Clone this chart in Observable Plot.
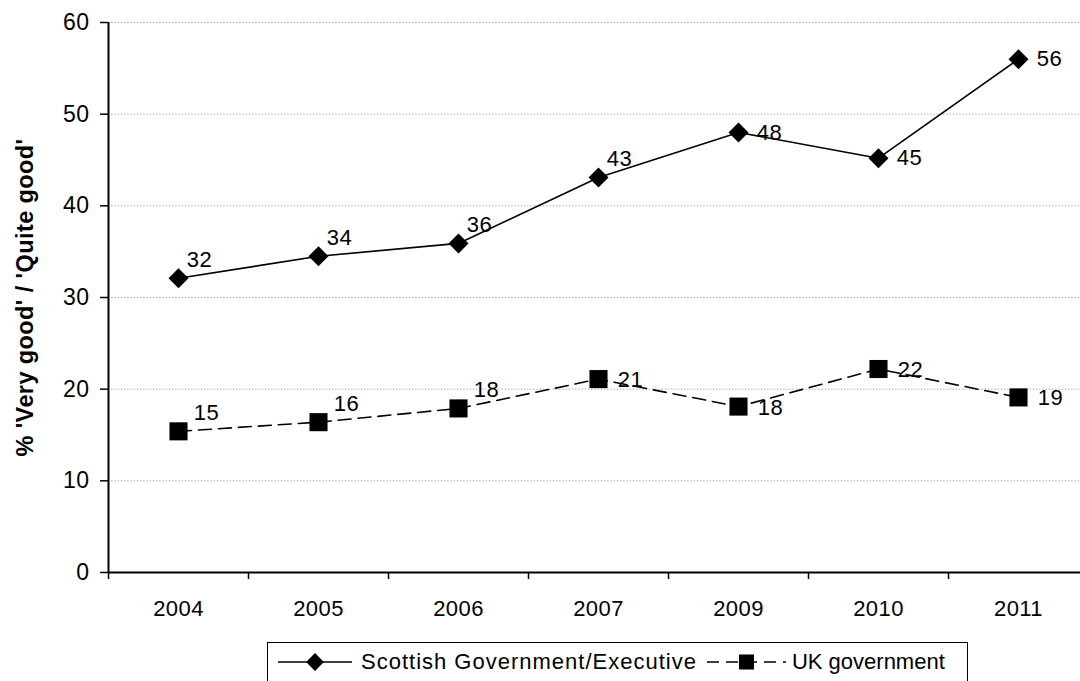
<!DOCTYPE html>
<html><head><meta charset="utf-8">
<script src="https://cdn.jsdelivr.net/npm/d3@7"></script>
<script src="https://cdn.jsdelivr.net/npm/@observablehq/plot@0.6"></script>
<style>
body{margin:0;background:#fff;font-family:"Liberation Sans",Arial,sans-serif;position:relative;width:1080px;height:681px;overflow:hidden;}
#legend{position:absolute;left:267px;top:642px;width:701px;height:44px;box-sizing:border-box;border:1px solid #000;display:flex;align-items:center;padding-left:10px;padding-bottom:4px;font-size:22px;white-space:nowrap;color:#000;}
#legend .item{display:flex;align-items:center;}
#legend .item0 span{letter-spacing:1px;}
#legend .item0{margin-right:10px;}
</style></head><body><div id="chart"></div><div id="legend"></div>
<script>
const years = ["2004","2005","2006","2007","2009","2010","2011"];
const scottish = [32.1, 34.5, 35.9, 43.1, 48.0, 45.2, 56.0];
const scottishLabels = [32, 34, 36, 43, 48, 45, 56];
const uk = [15.4, 16.4, 17.9, 21.1, 18.1, 22.2, 19.1];
const ukLabels = [15, 16, 18, 21, 18, 22, 19];
const yTicks = [0, 10, 20, 30, 40, 50, 60];
const seriesNames = ["Scottish Government/Executive", "UK government"];
const yTitle = "% 'Very good' / 'Quite good'";

const idx = years.map((_, i) => i);
const bounds = years.map((_, i) => i - 0.5).concat([years.length - 0.5]);
const sData = idx.map(i => ({i, value: scottish[i], label: scottishLabels[i]}));
const uData = idx.map(i => ({i, value: uk[i], label: ukLabels[i]}));

const font = "Liberation Sans, Arial, sans-serif";
const chart = Plot.plot({
  width: 1080,
  height: 636,
  marginTop: 22,
  marginBottom: 64,
  marginLeft: 108,
  marginRight: 0,
  style: {fontFamily: font, fontSize: "22px", color: "#000", background: "#fff", letterSpacing: "0.4px"},
  x: {type: "linear", domain: [-0.5, years.length - 0.5], range: [108, 1088]},
  y: {domain: [0, 60]},
  marks: [
    Plot.ruleY(yTicks.filter(d => d > 0), {stroke: "#999", strokeWidth: 1, strokeDasharray: "1.2,2"}),
    Plot.axisY({ticks: yTicks, tickSize: 8, tickPadding: 11, label: null, tickFormat: d => String(d), stroke: "#000", strokeWidth: 1.5, fontSize: 23}),
    Plot.axisX({ticks: bounds, tickSize: 7, tickFormat: () => "", label: null, stroke: "#000", strokeWidth: 1.5}),
    Plot.axisX({ticks: idx, tickSize: 0, tickPadding: 28, tickFormat: i => years[i], label: null, fontSize: 22}),
    Plot.ruleY([0], {stroke: "#000", strokeWidth: 2}),
    Plot.ruleX([-0.5], {stroke: "#000", strokeWidth: 2}),
    Plot.text([yTitle], {frameAnchor: "left", textAnchor: "middle", rotate: -90, dx: -83, fontWeight: "bold", fontSize: 23.5}),
    Plot.line(sData, {x: "i", y: "value", stroke: "#000", strokeWidth: 1.6}),
    Plot.line(uData, {x: "i", y: "value", stroke: "#000", strokeWidth: 1.6, strokeDasharray: "13,7"}),
    Plot.dot(sData, {x: "i", y: "value", symbol: "diamond2", r: 9, fill: "#000", stroke: "none"}),
    Plot.dot(uData, {x: "i", y: "value", symbol: "square", r: 10.2, fill: "#000", stroke: "none"}),
    Plot.text(sData.filter(d => d.i <= 3), {x: "i", y: "value", text: "label", dx: 21, dy: -18, fill: "#000", fontSize: 22}),
    Plot.text(sData.filter(d => d.i > 3), {x: "i", y: "value", text: "label", dx: 31, dy: 0, fill: "#000", fontSize: 22}),
    Plot.text(uData.filter(d => d.i <= 2), {x: "i", y: "value", text: "label", dx: 28, dy: -18, fill: "#000", fontSize: 22}),
    Plot.text(uData.filter(d => d.i > 2), {x: "i", y: "value", text: "label", dx: 32, dy: 1, fill: "#000", fontSize: 22})
  ]
});
document.getElementById("chart").appendChild(chart);

// Legend
const legend = d3.select("#legend");
const sw = [
  {name: seriesNames[0], dash: null, sym: "diamond", w: 74, gap: 9},
  {name: seriesNames[1], dash: "12,7", sym: "square", w: 79, gap: 6}
];
sw.forEach((s, k) => {
  const item = legend.append("div").attr("class", "item item" + k);
  const svg = item.append("svg").attr("width", s.w).attr("height", 24).style("margin-right", s.gap + "px");
  svg.append("line").attr("x1", 0).attr("x2", s.w).attr("y1", 12).attr("y2", 12)
    .attr("stroke", "#000").attr("stroke-width", 1.6).attr("stroke-dasharray", s.dash);
  if (s.sym === "diamond") {
    svg.append("path").attr("d", d3.symbol(d3.symbolDiamond2, 8 * 8 * Math.PI)()).attr("transform", `translate(${s.w / 2},12)`).attr("fill", "#000");
  } else {
    svg.append("path").attr("d", d3.symbol(d3.symbolSquare, 8.5 * 8.5 * Math.PI)()).attr("transform", `translate(${s.w / 2},12)`).attr("fill", "#000");
  }
  item.append("span").text(s.name);
});
</script>
</body></html>
